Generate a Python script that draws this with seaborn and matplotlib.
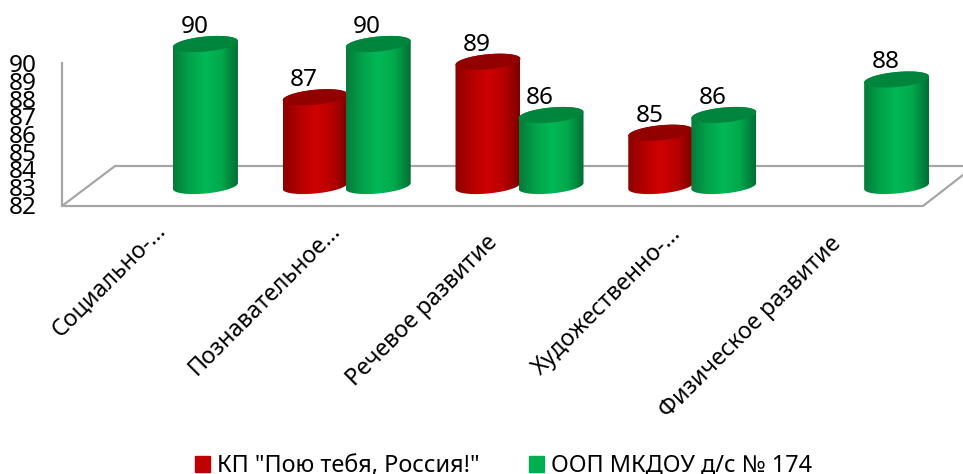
import numpy as np
import pandas as pd
import matplotlib
matplotlib.use("Agg")
import matplotlib.pyplot as plt
from matplotlib.colors import LinearSegmentedColormap
from matplotlib.lines import Line2D
from matplotlib.patches import Polygon
from matplotlib.transforms import ScaledTranslation
import seaborn as sns

# Data
categories = ["Социально-...", "Познавательное...", "Речевое развитие",
              "Художественно-...", "Физическое развитие"]
series_names = ['КП "Пою тебя, Россия!"', "ООП МКДОУ д/с № 174"]
red_values = [np.nan, 87, 89, 85, np.nan]
green_values = [90, 90, 86, 86, 88]
y_ticks = [82, 83, 84, 85, 86, 87, 88, 89, 90]

W, H = 963, 474
FONT = "Noto Sans"

sns.set_style("white")
plt.rcParams["font.family"] = [FONT, "DejaVu Sans"]
plt.rcParams["text.color"] = "black"

data = pd.DataFrame({
    "category": categories * 2,
    "series": [series_names[0]] * 5 + [series_names[1]] * 5,
    "value": red_values + green_values,
})


def fx(px):
    return px / W


def fy(px):
    return 1 - px / H


fig = plt.figure(figsize=(W / 100, H / 100), dpi=100)

# Back axis with the value labels, shifted away from the bars as in 3D
ax_back = fig.add_axes([fx(62), fy(205), fx(1), (205 - 63) / H])
ax_back.set_ylim(82, 90)
ax_back.set_yticks(y_ticks)
ax_back.set_xticks([])
ax_back.tick_params(axis="y", length=0, pad=18.5, labelsize=17.5, labelcolor="black")
sns.despine(ax=ax_back, right=True, top=True, bottom=True)
ax_back.spines["left"].set_color("#a6a6a6")
ax_back.spines["left"].set_linewidth(1.6)
ax_back.patch.set_visible(False)

# Floor of the chart
grey = dict(color="#a6a6a6", lw=1.6, zorder=-1, transform=fig.transFigure)
fig.add_artist(Line2D([fx(62), fx(923), fx(963)], [fy(206), fy(206), fy(175)], **grey))
fig.add_artist(Line2D([fx(62), fx(115), fx(963)], [fy(206), fy(166), fy(166)], **grey))

# Bars
ax = fig.add_axes([fx(87.5), fy(186), (951.5 - 87.5) / W, (186 - 44) / H])
ax.patch.set_visible(False)
palette = {series_names[0]: "#c00000", series_names[1]: "#00b050"}
sns.barplot(data=data, x="category", y="value", hue="series", hue_order=series_names,
            palette=palette, width=0.73, gap=0, ax=ax, legend=False)
ax.set_xlim(-0.5, 4.5)
ax.set_ylim(82, 90)
sns.despine(ax=ax, left=True, bottom=True)
ax.set_yticks([])
ax.set_xlabel("")
ax.set_ylabel("")
ax.tick_params(axis="x", length=0, pad=0, labelcolor="black")
ax.set_xticks(range(5))
ax.set_xticklabels(categories, rotation=45, ha="right", va="top",
                   rotation_mode="anchor", fontsize=16.7, color="black")

# x labels are not quite centred under the groups, nudge them (px)
nudge = [(-20, -33), (-18, -33), (-34, -45), (-23, -36), (-36, -46)]
for lab, (dx, dy) in zip(ax.get_xticklabels(), nudge):
    lab.set_transform(lab.get_transform() + ScaledTranslation(dx / 100, dy / 100, fig.dpi_scale_trans))

# Cylinders: shaded body with a darker top ellipse, built from each bar
px_x = (951.5 - 87.5) / 5
px_y = (186 - 44) / 8
shades = [
    (["#8c0000", "#b50000", "#cf0000", "#b80000", "#7c0000"], "#920000"),
    (["#067a3a", "#00a34a", "#00b856", "#00a84c", "#006e34"], "#00853c"),
]
t_low = np.linspace(np.pi, 2 * np.pi, 40)
t_up = np.linspace(0, np.pi, 40)
b_px, s_px = 7.5, 3.0

zo = 2
bars = []
for i, container in enumerate(ax.containers):
    for bar in container:
        if bar.get_height() == bar.get_height():
            bars.append((bar, i))
        bar.set_visible(False)
bars.sort(key=lambda item: item[0].get_x())

for bar, i in bars:
    colors, top_color = shades[i]
    cx = bar.get_x() + bar.get_width() / 2
    a = bar.get_width() / 2 * 1.03
    top = bar.get_height()
    low = 82

    def edge(t, level):
        return np.column_stack([cx + a * np.cos(t),
                                level + (b_px * np.sin(t) + s_px * np.cos(t)) / px_y])

    outline = np.vstack([edge(t_low, low), edge(t_up, top)])
    cmap = LinearSegmentedColormap.from_list("cyl", colors)
    grad = np.linspace(0, 1, 256).reshape(1, -1)
    im = ax.imshow(grad, cmap=cmap, extent=[cx - a, cx + a, low - 1, top + 1],
                   aspect="auto", zorder=zo)
    im.set_clip_path(Polygon(outline, transform=ax.transData, closed=True))
    im.set_clip_box(fig.bbox)
    t_all = np.linspace(0, 2 * np.pi, 80)
    ax.add_patch(Polygon(edge(t_all, top), closed=True, facecolor=top_color,
                         edgecolor="none", zorder=zo + 0.5, clip_on=False))
    ax.annotate(f"{top:.0f}", (cx, top), xytext=(-8, 8), textcoords="offset points",
                ha="center", va="baseline", fontsize=17.5, color="black",
                annotation_clip=False)
    zo += 1

ax.set_xlim(-0.5, 4.5)
ax.set_ylim(82, 90)

# Legend
handles = [plt.Rectangle((0, 0), 1, 1, color=palette[s]) for s in series_names]
fig.legend(handles, series_names, loc="lower left", bbox_to_anchor=(fx(195), fy(478)),
           ncol=2, frameon=False, fontsize=16.9, handlelength=0.66, handleheight=0.66,
           handletextpad=0.27, columnspacing=2.1, borderpad=0, borderaxespad=0,
           labelcolor="black")

fig.savefig("out.png", dpi=100)
